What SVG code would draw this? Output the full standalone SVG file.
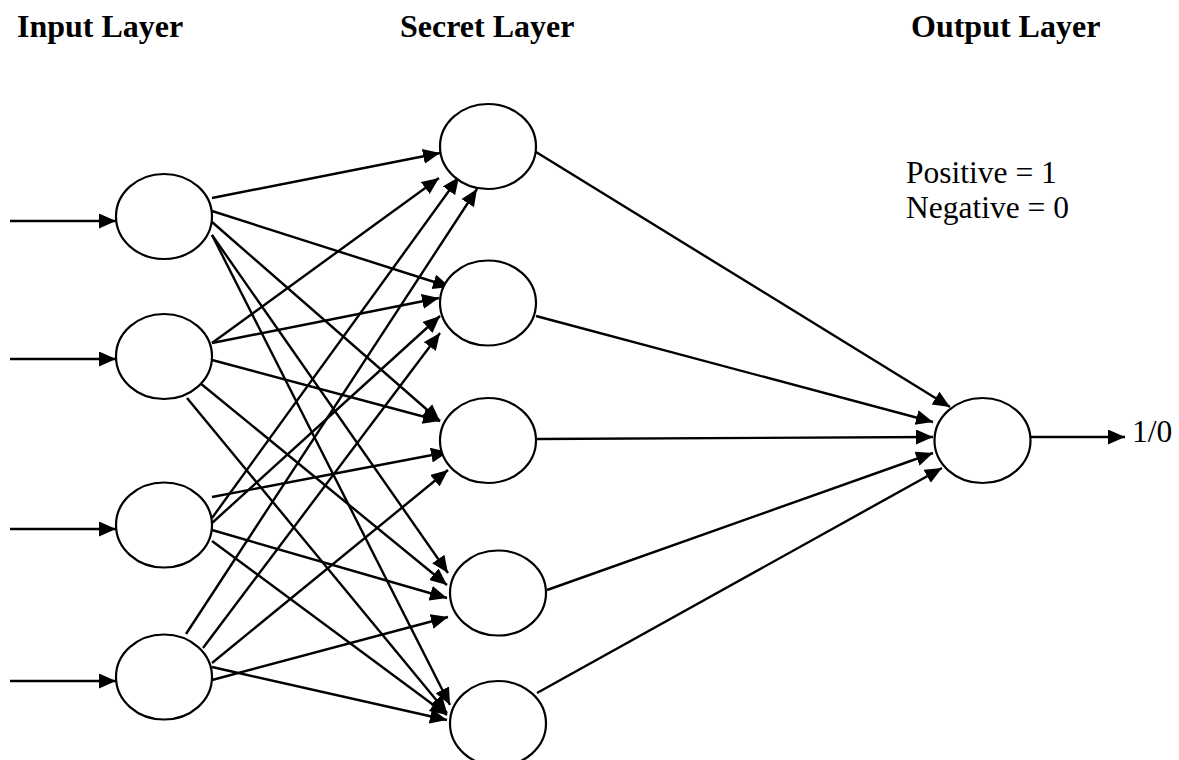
<svg xmlns="http://www.w3.org/2000/svg" width="1179" height="760" viewBox="0 0 1179 760">
<style>
.node{fill:#fff;stroke:#000;stroke-width:2.2}
.c line{stroke:#000;stroke-width:2.4;marker-end:url(#ah)}
.hdr{font-family:"Liberation Serif","Times New Roman",serif;font-weight:bold;font-size:32px;fill:#000}
.txt{font-family:"Liberation Serif","Times New Roman",serif;font-size:31.5px;fill:#000}
</style>
<defs>
<marker id="ah" markerUnits="userSpaceOnUse" markerWidth="18" markerHeight="16" refX="17" refY="7.5" orient="auto">
<path d="M0,0 L17,7.5 L0,15 Z" fill="#000"/>
</marker>
</defs>
<rect width="1179" height="760" fill="#fff"/>
<text class="hdr" x="17" y="37">Input Layer</text>
<text class="hdr" x="400" y="37">Secret Layer</text>
<text class="hdr" x="911" y="37">Output Layer</text>
<text class="txt" x="906" y="183">Positive = 1</text>
<text class="txt" x="906" y="218">Negative = 0</text>
<text class="txt" x="1132" y="442">1/0</text>
<g id="connectors" class="c">
<line x1="10" y1="221" x2="116" y2="221"/>
<line x1="10" y1="359" x2="116" y2="359"/>
<line x1="10" y1="529" x2="116" y2="529"/>
<line x1="10" y1="681" x2="116" y2="681"/>
<line x1="212" y1="198" x2="440" y2="153"/>
<line x1="212" y1="211" x2="450" y2="287"/>
<line x1="212" y1="222" x2="440" y2="421"/>
<line x1="212" y1="235" x2="448" y2="573"/>
<line x1="212" y1="235" x2="450" y2="705"/>
<line x1="212" y1="343" x2="439" y2="178"/>
<line x1="212" y1="343" x2="439" y2="298"/>
<line x1="212" y1="360" x2="440" y2="421"/>
<line x1="200" y1="383" x2="447" y2="585"/>
<line x1="187" y1="398" x2="447" y2="713"/>
<line x1="212" y1="518" x2="459" y2="177"/>
<line x1="212" y1="523" x2="440" y2="316"/>
<line x1="212" y1="497" x2="448" y2="452"/>
<line x1="212" y1="530" x2="447" y2="598"/>
<line x1="212" y1="541" x2="447" y2="715"/>
<line x1="186" y1="634" x2="477" y2="189"/>
<line x1="203" y1="648" x2="440" y2="333"/>
<line x1="212" y1="663" x2="448" y2="470"/>
<line x1="212" y1="680" x2="448" y2="617"/>
<line x1="212" y1="667" x2="447" y2="720"/>
<line x1="536" y1="152" x2="950" y2="407"/>
<line x1="536" y1="316" x2="933" y2="422"/>
<line x1="536" y1="439" x2="933" y2="437"/>
<line x1="547" y1="590" x2="933" y2="453"/>
<line x1="537" y1="693" x2="942" y2="468"/>
<line x1="1031" y1="437" x2="1125" y2="437"/>
</g>
<g id="in1"><ellipse class="node" cx="164" cy="216.5" rx="48" ry="42.5"/></g>
<g id="in2"><ellipse class="node" cx="164" cy="356.5" rx="48" ry="42.5"/></g>
<g id="in3"><ellipse class="node" cx="164" cy="525" rx="48" ry="42.5"/></g>
<g id="in4"><ellipse class="node" cx="164" cy="677" rx="48" ry="42.5"/></g>
<g id="h1"><ellipse class="node" cx="488" cy="146.5" rx="48" ry="42.5"/></g>
<g id="h2"><ellipse class="node" cx="488" cy="303" rx="48" ry="42.5"/></g>
<g id="h3"><ellipse class="node" cx="488" cy="440.5" rx="48" ry="42.5"/></g>
<g id="h4"><ellipse class="node" cx="498" cy="593" rx="48" ry="42.5"/></g>
<g id="h5"><ellipse class="node" cx="498" cy="723.5" rx="48" ry="42.5"/></g>
<g id="out"><ellipse class="node" cx="982.5" cy="440.5" rx="48" ry="42.5"/></g>
</svg>
